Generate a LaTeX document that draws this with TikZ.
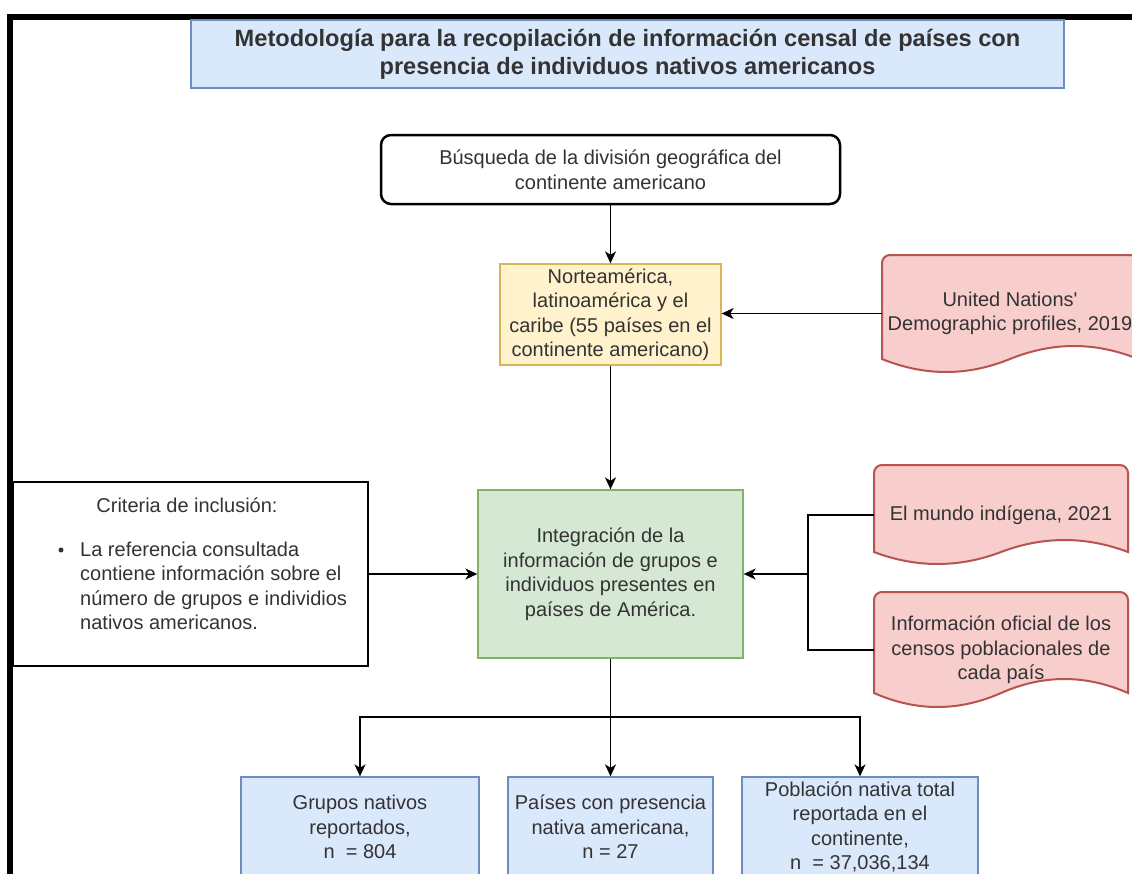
\documentclass[tikz,border=0pt]{standalone}
\usepackage{fontspec}
\setmainfont{Liberation Sans}
\newfontfamily\nomap{Liberation Sans}
\usetikzlibrary{arrows.meta,calc}
\definecolor{bluefill}{HTML}{DAE8FC}
\definecolor{blueline}{HTML}{6C8EBF}
\definecolor{yelfill}{HTML}{FFF2CC}
\definecolor{yelline}{HTML}{D6B656}
\definecolor{grnfill}{HTML}{D5E8D4}
\definecolor{grnline}{HTML}{82B366}
\definecolor{redfill}{HTML}{F8CECC}
\definecolor{redline}{HTML}{B85450}
\definecolor{txt}{HTML}{333333}
\newcommand\docshape[5]{% x0, x1, ytop, ymid, amplitude
  \filldraw[fill=redfill,draw=redline,line width=2pt]
    (#1,#4) [rounded corners=8pt]-- (#1,#3) -- (#2,#3) [sharp corners]-- (#2,#4)
    .. controls ({#2-(#2-#1)/6},{#4-1.333*#5}) and ({(#1+#2)/2+(#2-#1)/6},{#4-1.333*#5}) .. ({(#1+#2)/2},#4)
    .. controls ({(#1+#2)/2-(#2-#1)/6},{#4+1.333*#5}) and ({#1+(#2-#1)/6},{#4+1.333*#5}) .. (#1,#4) -- cycle;}
\begin{document}
\begin{tikzpicture}[x=1pt,y=-1pt,
  body/.style={font=\fontsize{20}{24.5}\selectfont, text=txt, align=center, inner sep=0pt},
  bluebox/.style={body, draw=blueline, fill=bluefill, line width=1.3pt},
  doctext/.style={body, draw=none, minimum width=254pt},
  arr/.style={-{Stealth[length=12pt,width=11pt,inset=3.5pt]}, line width=1.5pt, black},
  con/.style={line width=1.5pt, black}]
\useasboundingbox (0,0) rectangle (1132,873);
\clip (0,0) rectangle (1132,873);
\fill[white] (0,0) rectangle (1132,873);
% frame
\draw[line width=6pt] (10,890) -- (10,17) -- (1145,17);
% title
\node[bluebox, font=\fontsize{23.6}{28}\selectfont\bfseries, minimum width=873pt, minimum height=68pt] (title) at (627.5,54)
  {Metodología para la recopilación de información censal de países con\\presencia de individuos nativos americanos};
% search
\node[body, draw=black, line width=2.5pt, rounded corners=10pt, fill=white, minimum width=459pt, minimum height=69pt] (search) at (610.5,169.5)
  {Búsqueda de la división geográfica del\\continente americano};
% yellow
\node[body, draw=yelline, fill=yelfill, line width=1.3pt, minimum width=221pt, minimum height=101pt] (norte) at (610.5,314.5)
  {Norteamérica,\\latinoamérica y el\\caribe (55 países en el\\continente americano)};
% green
\node[body, draw=grnline, fill=grnfill, line width=1.3pt, minimum width=265pt, minimum height=168pt] (integ) at (610.5,574)
  {Integración de la\\información de grupos e\\individuos presentes en\\países de América.};
% criteria
\node[body, draw=black, fill=white, line width=1.3pt, minimum width=355pt, minimum height=184pt] (crit) at (190.5,574) {};
\node[body] (crittl) at (187,505) {Criteria de inclusión:};
\node[circle, fill=txt, inner sep=0pt, minimum size=5pt] (bul) at (61,550) {};
\node[body, align=left, anchor=west] (critl) at (80,586)
  {La referencia consultada\\contiene información sobre el\\número de grupos e individios\\nativos americanos.};
% document shapes
\docshape{882}{1138}{255}{359}{13}
\node[doctext, minimum width=256pt, minimum height=117pt] (un) at (1010,313.5) {United Nations{\nomap'}\\Demographic profiles, 2019};
\docshape{874}{1128}{465}{552}{12}
\node[doctext, minimum height=100pt] (mundo) at (1001,515) {El mundo indígena, 2021};
\docshape{874}{1128}{592}{693}{14}
\node[doctext, minimum height=116pt] (info) at (1001,650) {Información oficial de los\\censos poblacionales de\\cada país};
% bottom boxes
\node[bluebox, minimum width=238pt, minimum height=100pt] (b1) at (360,827) {Grupos nativos\\reportados,\\n\ \ = 804};
\node[bluebox, minimum width=205pt, minimum height=100pt] (b2) at (610.5,827) {Países con presencia\\nativa americana,\\n = 27};
\node[bluebox, minimum width=236pt, minimum height=100pt] (b3) at (860,827) {Población nativa total\\reportada en el\\continente,\\n\ \ = 37,036,134};
% connectors
\draw[arr] (search) -- (norte);
\draw[arr] (un.west) -- (norte.east |- un.west);
\draw[arr] (norte) -- (integ);
\draw[arr] (crit) -- (integ);
\coordinate (j) at (808,574);
\draw[con] (mundo.west) -| (j);
\draw[con] (info.west) -| (j);
\draw[arr] (j) -- (integ);
\coordinate (hb) at (610.5,717);
\draw[con] (integ) -- (hb);
\draw[arr] (hb) -| (b1);
\draw[arr] (hb) -- (b2);
\draw[arr] (hb) -| (b3);
\end{tikzpicture}
\end{document}
